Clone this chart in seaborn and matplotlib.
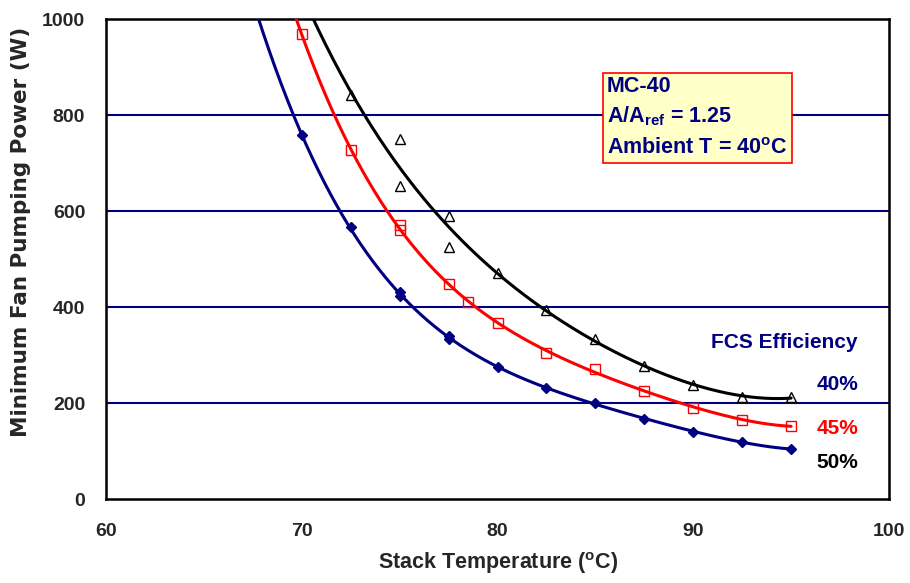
import numpy as np
import pandas as pd
import matplotlib
matplotlib.use("Agg")
import matplotlib.pyplot as plt
from matplotlib.patches import Rectangle
from matplotlib.ticker import MultipleLocator
import seaborn as sns

# ---- data ----
temp_50 = [70, 72.5, 75, 75, 77.5, 77.5, 80, 82.5, 85, 87.5, 90, 92.5, 95]
power_50 = [758, 566, 432, 422, 340, 333, 276, 232, 199, 167, 140, 119, 104]

temp_45 = [70, 72.5, 75, 75, 77.5, 78.5, 80, 82.5, 85, 87.5, 90, 92.5, 95]
power_45 = [968, 727, 571, 560, 447, 411, 366, 305, 270, 225, 190, 165, 152]

temp_40 = [72.5, 75, 75, 77.5, 77.5, 80, 82.5, 85, 87.5, 90, 92.5, 95]
power_40 = [842, 751, 652, 590, 524, 470, 394, 333, 278, 237, 212, 212]

x_ticks = [60, 70, 80, 90, 100]
y_ticks = [0, 200, 400, 600, 800, 1000]
fit_order = 4  # polynomial trendline order

NAVY = "#000080"
RED = "#FF0000"
BLACK = "#000000"

sns.set_style("white")
plt.rcParams["font.family"] = ["Liberation Sans", "DejaVu Sans"]
plt.rcParams["font.weight"] = "bold"
plt.rcParams["mathtext.fontset"] = "custom"
plt.rcParams["mathtext.rm"] = "Liberation Sans:bold"
plt.rcParams["mathtext.it"] = "Liberation Sans:bold"
plt.rcParams["mathtext.bf"] = "Liberation Sans:bold"

W, H = 910, 583
fig = plt.figure(figsize=(W / 100, H / 100), dpi=100)
AX_L, AX_R, AX_T, AX_B = 106, 889, 19, 499
ax = fig.add_axes([AX_L / W, 1 - AX_B / H, (AX_R - AX_L) / W, (AX_B - AX_T) / H])

# horizontal grid lines
for yv in y_ticks[1:-1]:
    ax.axhline(yv, color=NAVY, lw=1.5, zorder=1)

series = [
    (temp_50, power_50, NAVY, "D", NAVY, 5.0),
    (temp_45, power_45, RED, "s", "none", 6.5),
    (temp_40, power_40, BLACK, "^", "none", 7),
]

for tx, py, col, mk, fc, ms in series:
    tx = np.asarray(tx, float)
    py = np.asarray(py, float)
    coef = np.polyfit(tx, py, fit_order)
    xs = np.linspace(64, tx.max(), 400)
    df = pd.DataFrame({"x": xs, "y": np.polyval(coef, xs)})
    sns.lineplot(data=df, x="x", y="y", ax=ax, color=col, lw=2.2, zorder=3,
                 sort=False)
    ax.plot(tx, py, linestyle="none", marker=mk, markerfacecolor=fc,
            markeredgecolor=col, markersize=ms, markeredgewidth=1.0, zorder=4)

ax.set_xlim(60, 100)
ax.set_ylim(0, 1000)
ax.set_xticks(x_ticks)
ax.set_yticks(y_ticks)
ax.xaxis.set_minor_locator(MultipleLocator(2))
ax.yaxis.set_minor_locator(MultipleLocator(50))
ax.tick_params(axis="both", which="both", direction="in", top=False, right=False,
               color="black")
ax.tick_params(axis="both", which="major", length=7, width=1.2)
ax.tick_params(axis="both", which="minor", length=5, width=1.0)
ax.tick_params(axis="y", which="major", pad=15, labelsize=14)
ax.tick_params(axis="x", which="major", pad=17.5, labelsize=14)
for lab in ax.get_xticklabels() + ax.get_yticklabels():
    lab.set_fontweight("bold")

for s in ax.spines.values():
    s.set_visible(True)
    s.set_color("black")
    s.set_linewidth(1.8)

ax.set_xlabel("")
ax.set_ylabel("")
fig.text(498 / W, 1 - 563 / H, "Stack Temperature ($^{\\rm o}$C)", fontsize=15.5,
         fontweight="bold", ha="center", va="center")
fig.text(21 / W, 1 - 231.5 / H, "Minimum Fan Pumping Power (W)", fontsize=15.5,
         fontweight="bold", ha="center", va="center", rotation=90,
         family=["DejaVu Sans"])


def px2ax(px, py):
    return ((px - AX_L) / (AX_R - AX_L), (AX_B - py) / (AX_B - AX_T))


# annotation box
x0, y0 = px2ax(603, 163)
x1, y1 = px2ax(792, 73)
ax.add_patch(Rectangle((x0, y0), x1 - x0, y1 - y0, transform=ax.transAxes,
                       facecolor="#FFFFC8", edgecolor=RED, lw=1.2, zorder=5))
for txt, pyy in [("MC-40", 87), ("A/A$_{\\rm ref}$ = 1.25", 116),
                 ("Ambient T = 40$^{\\rm o}$C", 148)]:
    xa, ya = px2ax(607, pyy)
    ax.text(xa, ya, txt, transform=ax.transAxes, color=NAVY, fontsize=15.5,
            fontweight="bold", ha="left", va="center", zorder=6)

# right-side labels
xa, ya = px2ax(857, 342)
ax.text(xa, ya, "FCS Efficiency", transform=ax.transAxes, color=NAVY,
        fontsize=15, fontweight="bold", ha="right", va="center", zorder=6)
for txt, col, pyy in [("40%", NAVY, 384), ("45%", RED, 429), ("50%", BLACK, 462)]:
    xa, ya = px2ax(858, pyy)
    ax.text(xa, ya, txt, transform=ax.transAxes, color=col, fontsize=15,
            fontweight="bold", ha="right", va="center", zorder=6)

fig.savefig("out.png", dpi=100)
